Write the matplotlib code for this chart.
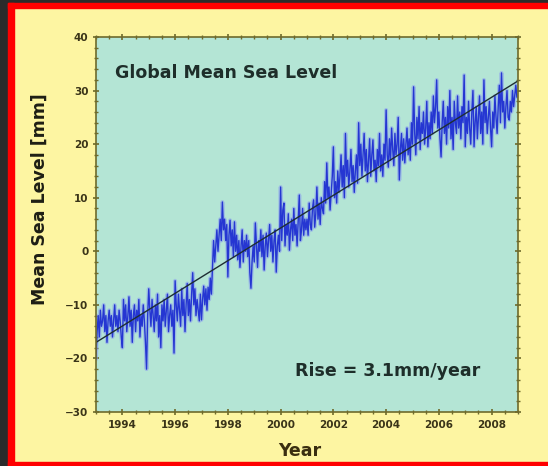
import numpy as np
import matplotlib
matplotlib.use('Agg')
import matplotlib.pyplot as plt
from matplotlib.patches import Rectangle
from matplotlib.ticker import MultipleLocator

# Global mean sea level anomaly [mm], 24 samples per year starting 1993.0
start_year = 1993
samples_per_year = 24
msl = [
    -20, -15, -12, -16, -11, -14, -13, -10, -15, -12, -17, -13, -11, -14, -12, -16, -13, -10, -14, -12, -15, -11, -13, -16,   # 1993
    -18, -9, -13, -10, -15, -12, -8.5, -14, -11, -17, -12, -10, -15, -11, -13, -9, -16, -12, -14, -10, -13, -17, -22, -12,   # 1994
    -7, -11, -14, -9, -12, -15, -10, -13, -8, -16, -12, -18, -10, -13, -9, -14, -11, -8, -15, -12, -10, -14, -11, -19,       # 1995
    -5.5, -10, -13, -8, -11, -14, -7, -12, -9, -15, -10, -6, -12, -9, -13, -8, -4, -10, -7, -12, -9, -11, -13, -8,           # 1996
    -12.8, -9, -6.5, -10, -7, -11, -6.7, -9, -5, -8, -3, 2, -2, 1, 4, 0, 3, 6, 2, 9.2, 4, 6, 2, 5,                           # 1997
    -4.8, 3, 5.8, 1, 4, -1, 5.5, 0, 3, -1.6, 2, -3, 1, 4, -2, 2, 0, 3, -1, 2, -4, -6.9, -2, 1,                               # 1998
    -2, 5.3, 1, -3, 2, 0, 4, -1, 3, -3.5, 1, 3.4, -1, 2, 5, 0, 3, -2, 2, 4, -3.9, 1, 3, 0,                                   # 1999
    12, 2, 7.7, 9, 1, 5, 3, 7, 0.2, 4, 6, 2, 8, 3, 5, 1, 6, 10.5, 2, 4, 8, 3, 6, 4,                                          # 2000
    6, 3, 9, 5, 4, 8, 9.6, 4.5, 7, 12, 6, 9, 5, 10, 8, 7, 13, 9, 16.5, 10, 12, 7.7, 11, 14,                                  # 2001
    19.5, 10, 13, 9, 15, 11, 14, 18, 12, 16, 10, 22, 14, 17, 12, 15, 19, 13, 16, 11, 15, 18, 12.7, 24,                       # 2002
    16, 20, 14, 18, 22, 15, 19, 13, 17, 21, 14, 18, 20.8, 15, 17, 13, 19, 16, 22, 15, 18, 14, 20, 17,                        # 2003
    26.4, 18, 15.7, 21, 17, 23, 19, 16, 22, 18, 20, 25, 13.3, 19, 22, 17, 21, 16.5, 20, 23, 18, 21, 17, 24,                  # 2004
    20, 30.7, 22, 18, 25, 21, 27, 19, 24, 22, 26, 20, 23, 28, 19.5, 24, 21, 26, 22, 29, 24, 27, 32, 23,                      # 2005
    26, 21, 17.6, 24, 28, 22, 25, 20, 27, 23, 30, 21, 25, 19, 28, 24, 22, 29, 23, 26, 21, 27, 24, 32.9,                      # 2006
    19.5, 25, 22, 28, 23, 20, 26, 30, 19.5, 24, 27, 21, 25, 29, 22, 26, 20, 32, 24, 27, 22, 25, 28, 23,                      # 2007
    19.5, 26, 23, 29, 25, 22, 27, 31, 24, 33.3, 26, 28, 23, 27, 30, 25, 24.5, 28, 26, 30, 27, 29, 31, 28.8,                  # 2008
]
trend_at_start = -17.0   # mm at 1993.0
trend_rate = 3.05        # mm/year
title_text = 'Global Mean Sea Level'
rise_text = 'Rise = 3.1mm/year'

years = start_year + np.arange(len(msl)) / samples_per_year
trend_x = np.array([1993, 2009])
trend_y = trend_at_start + trend_rate * (trend_x - start_year)

yellow = '#fdf5a2'
olive = '#6e6a2c'
txt = '#3a3418'

fig = plt.figure(figsize=(5.48, 4.66), dpi=100, facecolor=yellow)

# cadre (bordure sombre + rouge)
W, H = 548, 466
fig.patches.append(Rectangle((0, 0), 8 / W, 1, transform=fig.transFigure, color='#2b2b2b', zorder=-5))
fig.patches.append(Rectangle((0, 1 - 3 / H), 1, 3 / H, transform=fig.transFigure, color='#2b2b2b', zorder=-5))
fig.patches.append(Rectangle((8 / W, 0), 6 / W, 1 - 3 / H, transform=fig.transFigure, color='#ff0000', zorder=-4))
fig.patches.append(Rectangle((8 / W, 1 - 8 / H), 1, 5 / H, transform=fig.transFigure, color='#ff0000', zorder=-4))
fig.patches.append(Rectangle((8 / W, 0), 1, 4 / H, transform=fig.transFigure, color='#ff0000', zorder=-4))

ax = fig.add_axes([96 / W, 1 - 412 / H, 422 / W, 375 / H])
ax.set_facecolor('#b4e5d5')

ax.plot(years, msl, color='#8a9cf0', lw=2.8, alpha=0.55)
ax.plot(years, msl, color='#2536d2', lw=1.0)
ax.plot(trend_x, trend_y, color='#1e2e34', lw=1.0)

ax.set_xlim(1993, 2009)
ax.set_ylim(-30, 40)
ax.xaxis.set_minor_locator(MultipleLocator(0.5))
ax.yaxis.set_major_locator(MultipleLocator(10))
ax.yaxis.set_minor_locator(MultipleLocator(2))
ax.set_xticks(np.arange(1994, 2009, 2))

for s in ax.spines.values():
    s.set_color(olive)
    s.set_linewidth(1.2)
ax.tick_params(which='both', direction='inout', top=True, right=True, color=olive)
ax.tick_params(which='major', length=5, width=1.2, labelsize=7.5, labelcolor=txt, pad=3)
ax.tick_params(which='minor', length=3, width=1.0)
for lab in ax.get_xticklabels() + ax.get_yticklabels():
    lab.set_fontweight('bold')

ax.text(1993.72, 33.3, title_text, fontsize=12.5, fontweight='bold', color='#1e2e2a', va='center')
ax.text(2000.54, -22.3, rise_text, fontsize=12.5, fontweight='bold', color='#1e2e2a', va='center')

fig.text(40 / W, 1 - 199 / H, 'Mean Sea Level [mm]', rotation=90, fontsize=12.5, fontweight='bold',
         color='#1e1e14', ha='center', va='center')
fig.text(300 / W, 1 - 451 / H, 'Year', fontsize=12.5, fontweight='bold', color='#3a2e10', ha='center', va='center')

fig.savefig('out.png', dpi=100, facecolor=yellow)
